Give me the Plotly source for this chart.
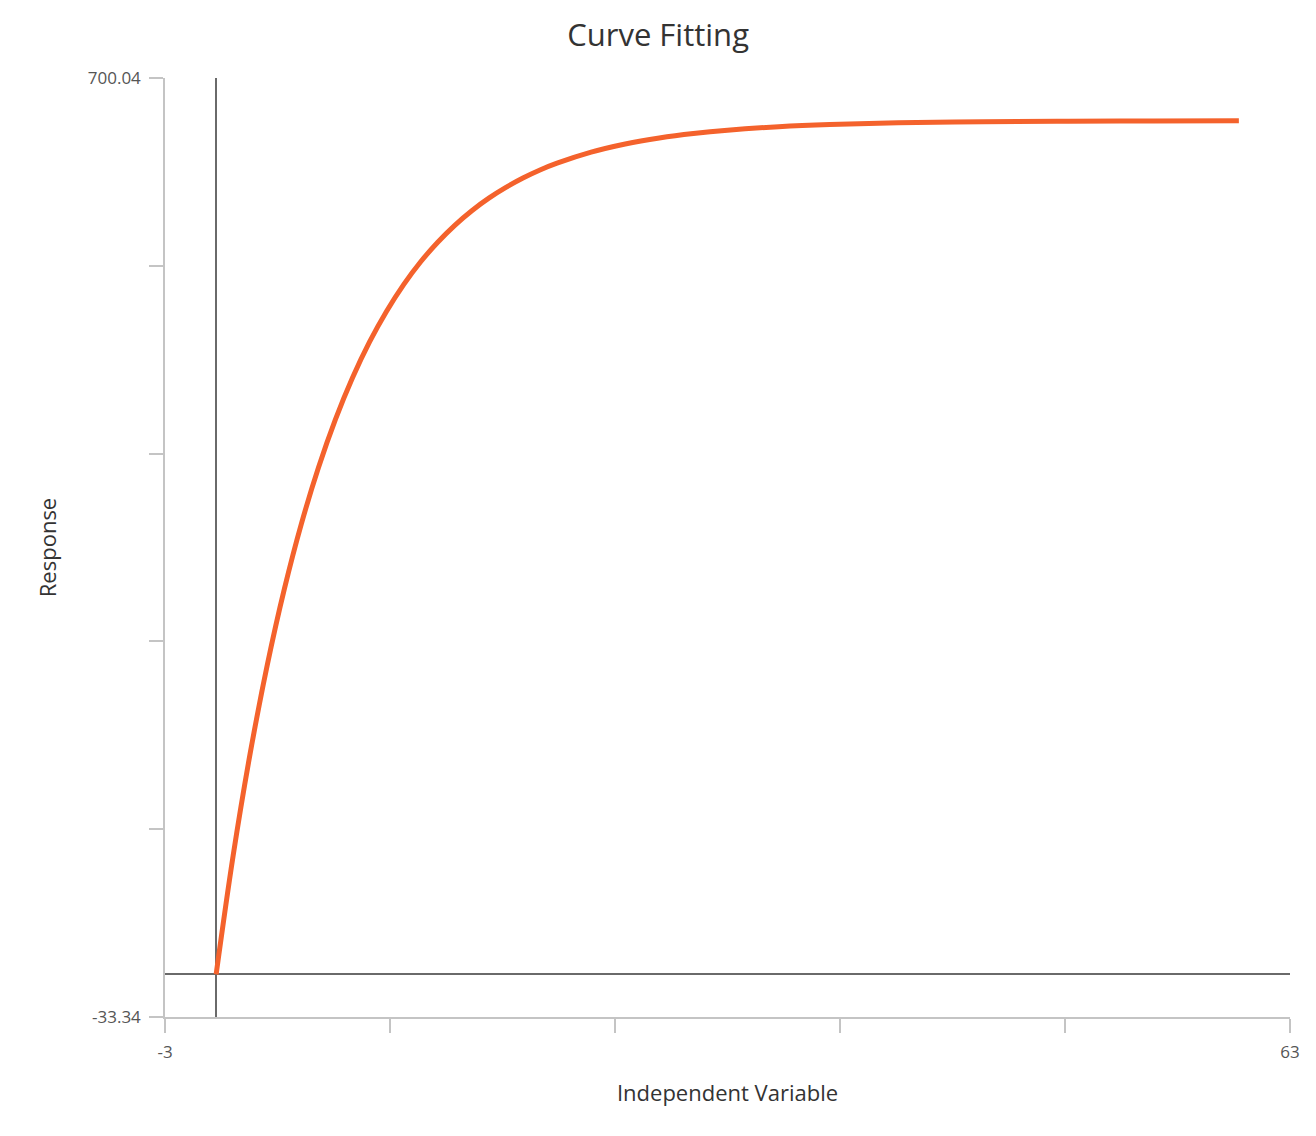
import plotly.graph_objects as go

# curve (independent variable vs response)
x_vals = [0, 1, 2, 3, 4, 5, 6, 7, 8, 9, 10, 11, 12, 13, 14, 15, 16, 17, 18, 19, 20,
          22, 24, 26, 28, 30, 33, 36, 40, 45, 50, 55, 60]
y_vals = [0, 92.9, 172.8, 241.6, 300.8, 351.8, 395.6, 433.4, 465.9, 493.9, 517.9,
          538.7, 556.5, 571.8, 585.0, 596.4, 606.2, 614.6, 621.9, 628.2, 633.5,
          642.1, 648.5, 653.2, 656.7, 659.3, 662.0, 663.7, 665.0, 665.9, 666.3, 666.5, 666.7]

x_range = [-3, 63]
y_range = [-33.34, 700.04]
x_ticks = [-3, 10.2, 23.4, 36.6, 49.8, 63]
x_ticklabels = ["-3", "", "", "", "", "63"]
y_ticks = [-33.34, 113.336, 260.012, 406.688, 553.364, 700.04]
y_ticklabels = ["-33.34", "", "", "", "", "700.04"]

FONT = "Open Sans, Noto Sans, sans-serif"
AXIS_GREY = "#c4c4c4"

fig = go.Figure()
fig.add_trace(go.Scatter(
    x=x_vals, y=y_vals, mode="lines", line=dict(color="#f4622c", width=5, shape="spline"),
    showlegend=False, hoverinfo="skip",
))

axis_common = dict(
    showgrid=False, zeroline=True, zerolinecolor="#6a6a6a", zerolinewidth=1.5,
    showline=True, linecolor=AXIS_GREY, linewidth=1.5,
    ticks="outside", ticklen=14, tickwidth=1.5, tickcolor=AXIS_GREY,
    tickfont=dict(family=FONT, size=17, color="#555555"),
    ticklabelstandoff=5,
    tickmode="array",
)

fig.update_xaxes(
    range=x_range, tickvals=x_ticks, ticktext=x_ticklabels,
    title=dict(text="Independent Variable", font=dict(family=FONT, size=22, color="#333333"), standoff=23),
    **axis_common,
)
fig.update_yaxes(
    range=y_range, tickvals=y_ticks, ticktext=y_ticklabels,
    title=dict(text="Response", font=dict(family=FONT, size=22, color="#333333"), standoff=25),
    **axis_common,
)

# the page sits 8px in from the window corner, so margins are shifted by that
fig.update_layout(
    width=1316, height=1136,
    margin=dict(l=157, r=34, t=70, b=127, autoexpand=False),
    plot_bgcolor="white", paper_bgcolor="white",
    title=dict(text="Curve Fitting", x=0.494, xanchor="center", y=0.976, yanchor="middle",
               font=dict(family=FONT, size=31, color="#333333")),
)

fig.write_html("out.html")
